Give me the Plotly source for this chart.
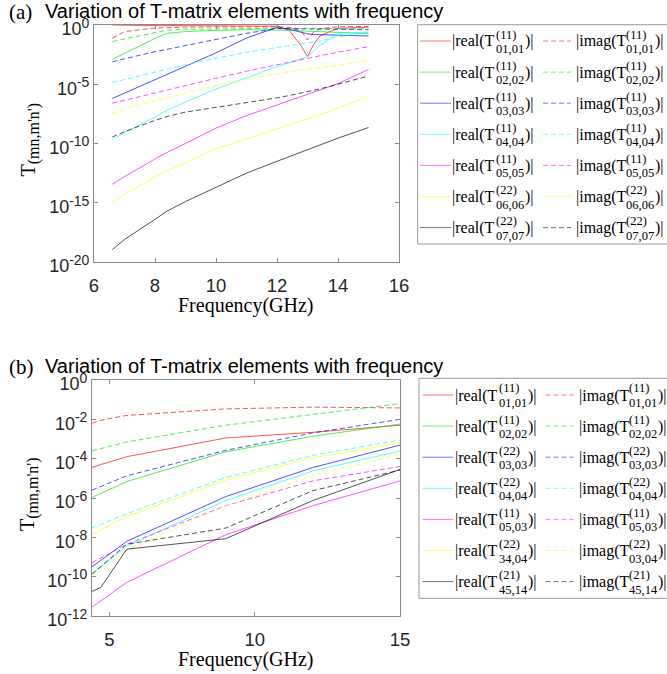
import numpy as np
import plotly.graph_objects as go

W, H = 667, 674

# ---------------- panel (a): frequency (GHz) and log10 of |T| ----------------
freq_a = [6.6, 7.0, 8.0, 8.4, 9.0, 10.0, 11.0, 12.0, 12.4, 12.8, 13.0, 13.2, 13.4, 14.0, 15.0]

a_real_0101 = [0.0, -0.03, -0.05, -0.05, -0.06, -0.07, -0.08, -0.1, -0.45, -1.79, -2.67, -1.65, -0.93, -0.28, -0.18]
a_imag_0101 = [-1.12, -0.56, -0.25, -0.2, -0.18, -0.16, -0.15, -0.15, -0.2, -0.5, -1.27, -0.6, -0.3, -0.15, -0.12]
a_real_0202 = [-2.9, -2.39, -1.13, -0.7, -0.55, -0.45, -0.4, -0.42, -0.45, -0.5, -0.52, -0.55, -0.57, -0.62, -0.75]
a_imag_0202 = [-1.4, -1.18, -0.6, -0.42, -0.37, -0.32, -0.3, -0.28, -0.28, -0.29, -0.3, -0.3, -0.3, -0.3, -0.32]
a_real_0303 = [-6.2, -5.74, -4.6, -4.15, -3.48, -2.35, -1.1, -0.2, -0.35, -0.6, -0.75, -0.8, -0.82, -0.85, -0.93]
a_imag_0303 = [-3.1, -2.85, -2.25, -2.05, -1.75, -1.25, -0.7, -0.3, -0.3, -0.32, -0.33, -0.34, -0.35, -0.36, -0.4]
a_real_0404 = [-9.65, -9.1, -7.7, -7.2, -6.5, -5.4, -4.45, -3.5, -3.2, -2.85, -2.67, -2.2, -1.75, -0.7, -0.6]
a_imag_0404 = [-4.85, -4.6, -3.95, -3.7, -3.35, -2.8, -2.3, -1.9, -1.75, -1.6, -1.5, -1.42, -1.35, -1.0, -0.6]
a_real_0505 = [-13.44, -12.8, -11.3, -10.75, -10.0, -8.7, -7.65, -6.75, -6.4, -6.05, -5.85, -5.7, -5.55, -4.95, -3.75]
a_imag_0505 = [-6.6, -6.35, -5.7, -5.45, -5.1, -4.5, -3.9, -3.35, -3.1, -2.9, -2.8, -2.7, -2.6, -2.3, -1.83]
a_real_0606 = [-15.0, -14.3, -12.8, -12.3, -11.6, -10.45, -9.6, -8.75, -8.35, -8.05, -7.9, -7.75, -7.6, -7.0, -6.05]
a_imag_0606 = [-7.45, -7.1, -6.4, -6.15, -5.75, -5.1, -4.6, -4.1, -3.95, -3.8, -3.72, -3.65, -3.58, -3.4, -3.0]
a_real_0707 = [-18.96, -18.1, -16.4, -15.7, -14.9, -13.7, -12.5, -11.5, -11.1, -10.7, -10.5, -10.3, -10.1, -9.55, -8.65]
a_imag_0707 = [-9.45, -9.0, -8.05, -7.72, -7.35, -6.95, -6.6, -6.15, -5.95, -5.75, -5.6, -5.5, -5.4, -5.0, -4.3]

# ---------------- panel (b) ----------------
freq_b = [4.4, 4.7, 5.6, 9.0, 12.0, 15.0]

b_real_0101 = [-4.45, -4.3, -3.9, -2.95, -2.66, -2.3]
b_imag_0101 = [-2.2, -2.05, -1.8, -1.47, -1.38, -1.42]
b_real_0202 = [-5.97, -5.77, -5.16, -3.65, -2.86, -2.24]
b_imag_0202 = [-3.6, -3.48, -3.15, -2.3, -1.75, -1.2]
b_real_0303 = [-9.5, -9.18, -8.2, -5.93, -4.45, -3.31]
b_imag_0303 = [-5.6, -5.42, -4.87, -3.58, -2.69, -2.0]
b_real_0404 = [-9.87, -9.52, -8.45, -6.13, -4.62, -3.61]
b_imag_0404 = [-7.51, -7.33, -6.8, -4.96, -3.83, -3.05]
b_real_0503 = [-11.55, -11.24, -10.29, -7.87, -6.39, -5.13]
b_imag_0503 = [-9.29, -9.06, -8.35, -6.39, -5.13, -4.4]
b_real_3404 = [-7.85, -7.62, -6.94, -5.09, -3.95, -3.2]
b_imag_0304 = [-10.0, -9.66, -8.65, -6.39, -4.87, -3.78]
b_real_4514 = [-10.75, -10.55, -8.6, -8.07, -6.13, -4.55]
b_imag_4514 = [-9.87, -9.5, -8.35, -7.53, -5.63, -4.58]

# legend labels: superscript (mode pair) and subscript (indices)
sup_a_real = ["(11)", "(11)", "(11)", "(11)", "(11)", "(22)", "(22)"]
sub_a_real = ["01,01", "02,02", "03,03", "04,04", "05,05", "06,06", "07,07"]
sup_a_imag = sup_a_real
sub_a_imag = sub_a_real
sup_b_real = ["(11)", "(11)", "(22)", "(22)", "(11)", "(22)", "(21)"]
sub_b_real = ["01,01", "02,02", "03,03", "04,04", "05,03", "34,04", "45,14"]
sup_b_imag = ["(11)", "(11)", "(22)", "(22)", "(11)", "(22)", "(21)"]
sub_b_imag = ["01,01", "02,02", "03,03", "04,04", "05,03", "03,04", "45,14"]

xticks_a = [6, 8, 10, 12, 14, 16]
yexp_a = [0, -5, -10, -15, -20]
xticks_b = [5, 10, 15]
yexp_b = [0, -2, -4, -6, -8, -10, -12]

title_text = "Variation of T-matrix elements with frequency"

# ---------------- styling ----------------
SANS = "Liberation Sans, Arial, sans-serif"
SERIF = "Liberation Serif, Times New Roman, serif"
TXT = "#262626"
AX = "#8a8a8a"
line_rgb = [(255, 0, 0), (0, 225, 0), (0, 0, 255), (0, 255, 255),
            (255, 0, 255), (255, 255, 0), (0, 0, 0)]
DASH = "5px,3px"


def rgba(c, a):
    return "rgba(%d,%d,%d,%.2f)" % (c[0], c[1], c[2], a)


def px(x):
    return x / W


def py(y):
    return 1 - y / H


fig = go.Figure()

pairs_a = [(a_real_0101, a_imag_0101), (a_real_0202, a_imag_0202), (a_real_0303, a_imag_0303),
           (a_real_0404, a_imag_0404), (a_real_0505, a_imag_0505), (a_real_0606, a_imag_0606),
           (a_real_0707, a_imag_0707)]
pairs_b = [(b_real_0101, b_imag_0101), (b_real_0202, b_imag_0202), (b_real_0303, b_imag_0303),
           (b_real_0404, b_imag_0404), (b_real_0503, b_imag_0503), (b_real_3404, b_imag_0304),
           (b_real_4514, b_imag_4514)]


def label(kind, sup, sub):
    return "|%s(T<sup>%s</sup><sub>%s</sub>)|" % (kind, sup, sub)


def add_panel(freq, pairs, sups_r, subs_r, sups_i, subs_i, xa, ya):
    for i, (re, im) in enumerate(pairs):
        c = line_rgb[i]
        fig.add_trace(go.Scatter(
            x=freq, y=np.power(10.0, re), mode="lines", xaxis=xa, yaxis=ya,
            line=dict(color=rgba(c, 0.68), width=1), showlegend=False,
            name=label("real", sups_r[i], subs_r[i])))
        fig.add_trace(go.Scatter(
            x=freq, y=np.power(10.0, im), mode="lines", xaxis=xa, yaxis=ya,
            line=dict(color=rgba(c, 0.68), width=1, dash=DASH), showlegend=False,
            name=label("imag", sups_i[i], subs_i[i])))


add_panel(freq_a, pairs_a, sup_a_real, sub_a_real, sup_a_imag, sub_a_imag, "x", "y")
add_panel(freq_b, pairs_b, sup_b_real, sub_b_real, sup_b_imag, sub_b_imag, "x2", "y2")

axis_common = dict(showline=True, linecolor=AX, linewidth=1, mirror="ticks",
                   ticks="inside", ticklen=4, tickcolor=AX, tickwidth=1,
                   showgrid=False, zeroline=False, automargin=False)
xfont = dict(family=SANS, size=18.5, color=TXT)
yfont = dict(family=SANS, size=18, color=TXT)


def ytext(exps):
    return ["10<sup><span style='font-size:14px'>%d</span></sup>" % e for e in exps]


fig.update_layout(
    template="none",
    width=W, height=H, margin=dict(l=0, r=0, t=0, b=0, pad=0, autoexpand=False),
    paper_bgcolor="white", plot_bgcolor="white", showlegend=False,
    xaxis=dict(domain=[px(94), px(399)], range=[6, 16], tickvals=xticks_a, anchor="y",
               tickfont=xfont, ticklabelstandoff=7, **axis_common),
    yaxis=dict(domain=[py(262), py(25)], type="log", range=[-20, 0],
               tickvals=[10.0 ** e for e in yexp_a], ticktext=ytext(yexp_a), anchor="x",
               tickfont=yfont, ticklabelstandoff=0, ticklabelshift=4, **axis_common),
    xaxis2=dict(domain=[px(92), px(400)], range=[4.4, 15], tickvals=xticks_b, anchor="y2",
                tickfont=xfont, ticklabelstandoff=7, **axis_common),
    yaxis2=dict(domain=[py(616), py(380)], type="log", range=[-12, 0],
                tickvals=[10.0 ** e for e in yexp_b], ticktext=ytext(yexp_b), anchor="x2",
                tickfont=yfont, ticklabelstandoff=0, ticklabelshift=4, **axis_common),
)

annotations = []
shapes = []


def ann(x, y, text, size, family, xanchor="left", color="black", angle=0):
    annotations.append(dict(x=px(x), y=py(y), xref="paper", yref="paper", text=text,
                            showarrow=False, xanchor=xanchor, yanchor="middle",
                            borderpad=0, borderwidth=0, textangle=angle,
                            font=dict(family=family, size=size, color=color)))


# panel letters, titles and axis labels
for letter, top, xl, xr, bottom in (("(a)", 25, 94, 399, 262), ("(b)", 380, 92, 400, 616)):
    ann(9, top - 13, letter, 21, SERIF)
    ann(45, top - 14, title_text, 20, SANS)
    ann((xl + xr) / 2, bottom + 43, "Frequency(GHz)", 20, SERIF, xanchor="center")
    ann(29, (top + bottom) / 2 - 4,
        "T<sub><span style='font-size:16px'>(mn,m'n')</span></sub>",
        20, SERIF, xanchor="center", angle=-90)


def legend(box_left, box_top, box_bottom, row0, dx, sups_r, subs_r, sups_i, subs_i):
    shapes.append(dict(type="rect", xref="paper", yref="paper",
                       x0=px(box_left), x1=px(670), y0=py(box_bottom), y1=py(box_top),
                       line=dict(color="#9a9a9a", width=1), fillcolor="rgba(0,0,0,0)"))
    for i in range(7):
        yr = row0 + 31.1 * i
        c = line_rgb[i]
        shapes.append(dict(type="line", xref="paper", yref="paper",
                           x0=px(420 + dx), x1=px(451 + dx), y0=py(yr), y1=py(yr),
                           line=dict(color=rgba(c, 0.55), width=1)))
        shapes.append(dict(type="line", xref="paper", yref="paper",
                           x0=px(543 + dx), x1=px(571 + dx), y0=py(yr), y1=py(yr),
                           line=dict(color=rgba(c, 0.55), width=1, dash=DASH)))
        for kind, xm, xs, xc, sups, subs in (("real", 452.5 + dx, 496 + dx, 525 + dx, sups_r, subs_r),
                                             ("imag", 576 + dx, 626 + dx, 655 + dx, sups_i, subs_i)):
            ann(xm, yr + 0.5, "|%s(T" % kind, 16, SERIF)
            ann(xs, yr - 6.5, sups[i], 12.5, SERIF)
            ann(xs, yr + 8, subs[i], 12.5, SERIF)
            ann(xc, yr + 0.5, ")|", 16, SERIF)


legend(417.7, 24.7, 244, 41, 0, sup_a_real, sub_a_real, sup_a_imag, sub_a_imag)
legend(419, 378.3, 598.3, 395, 2.5, sup_b_real, sub_b_real, sup_b_imag, sub_b_imag)

fig.update_layout(annotations=annotations, shapes=shapes)

fig.write_html("out.html")
